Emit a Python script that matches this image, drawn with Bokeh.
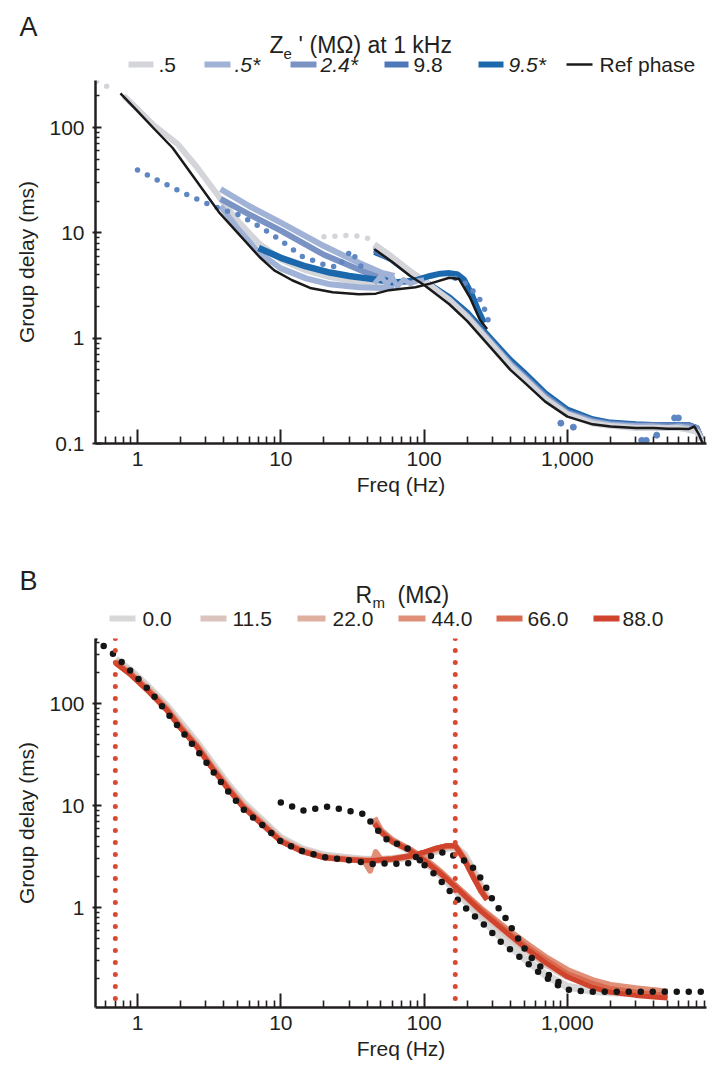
from bokeh.plotting import figure
from bokeh.layouts import column
from bokeh.models import Range1d, FixedTicker, Span, CustomJSTickFormatter
from bokeh.core.properties import value
from bokeh.embed import file_html
from bokeh.resources import INLINE

FONT = "Liberation Sans"
INK = "#231F20"

# ======================= Panel A data =======================
ze_names = [".5", ".5*", "2.4*", "9.8", "9.5*"]
ze_italic = [False, True, True, False, True]
ze_colors = ["#D3D5DA", "#A0B3D6", "#7A93C5", "#4F78B9", "#1C68AC"]
ze_dot_color = "#5E86C2"
ref_color = "#1A1A1A"

# Reference phase (black)
ref_lo_f = [0.76, 1.0, 1.3, 1.76, 2.5, 3.75, 5.0, 7.1, 9.0, 12, 16, 23, 35, 46, 57, 70, 87, 110, 150, 175, 210, 245, 275]
ref_lo_d = [211, 143, 98, 64, 33, 15.4, 10, 5.9, 4.4, 3.55, 3.0, 2.73, 2.62, 2.65, 2.86, 2.95, 3.05, 3.3, 3.75, 3.65, 2.4, 1.5, 1.22]
ref_hi_f = [45, 60, 80, 100, 150, 200, 300, 400, 500, 700, 1000, 1500, 2000, 3000, 4000, 5000, 6000, 7000, 7700, 8200, 8800]
ref_hi_d = [7.0, 5.3, 3.9, 3.2, 2.1, 1.45, 0.78, 0.5, 0.38, 0.25, 0.18, 0.152, 0.145, 0.14, 0.14, 0.138, 0.138, 0.137, 0.145, 0.125, 0.1]

# shared high-frequency grid for the Ze' series
zeA_hi_f = [45, 60, 80, 100, 150, 200, 300, 400, 500, 700, 1000, 1500, 2000, 3000, 4000, 5000, 6000, 7000, 8000, 8600]
z05_hi_d = [7.8, 5.9, 4.3, 3.5, 2.3, 1.58, 0.85, 0.54, 0.41, 0.265, 0.19, 0.155, 0.147, 0.14, 0.14, 0.14, 0.14, 0.135, 0.13, 0.11]
z05s_hi_d = [7.6, 5.8, 4.3, 3.5, 2.3, 1.6, 0.87, 0.56, 0.42, 0.27, 0.19, 0.16, 0.15, 0.145, 0.145, 0.14, 0.145, 0.14, 0.13, 0.11]
z24s_hi_d = [7.3, 5.6, 4.2, 3.45, 2.3, 1.62, 0.88, 0.57, 0.43, 0.28, 0.195, 0.163, 0.152, 0.147, 0.147, 0.145, 0.145, 0.145, 0.14, 0.11]
z98_hi_d = [6.9, 5.5, 4.1, 3.4, 2.35, 1.65, 0.9, 0.58, 0.44, 0.285, 0.2, 0.165, 0.155, 0.15, 0.15, 0.15, 0.15, 0.15, 0.14, 0.11]
z95s_hi_d = [6.6, 5.6, 4.2, 3.5, 2.45, 1.75, 0.95, 0.62, 0.47, 0.3, 0.21, 0.17, 0.158, 0.152, 0.15, 0.15, 0.15, 0.15, 0.14, 0.11]

# low-frequency parts
z05_lo_f = [0.8, 1.0, 1.3, 1.9, 2.6, 3.7, 5, 7, 10, 15, 22, 35, 50, 62]
z05_lo_d = [200, 150, 105, 70, 42, 22, 13, 8, 5.6, 4.4, 3.8, 3.4, 3.25, 3.2]
z05_dotA_f = [0.52, 0.6, 0.7]
z05_dotA_d = [275, 250, 217]
z05_dotB_f = [20, 25, 31, 38, 46]
z05_dotB_d = [9.2, 9.3, 9.5, 9.2, 8.3]

z05s_up_f = [3.8, 6, 10, 20, 35, 50, 62]
z05s_up_d = [26, 18, 12.5, 7.5, 5.2, 4.2, 3.9]
z05s_lo_f = [3.8, 5, 7, 10, 15, 22, 35, 50, 62]
z05s_lo_d = [18, 11, 6.5, 4.6, 3.7, 3.25, 3.05, 3.0, 3.0]
z05s_pk_f = [45, 50, 55, 60, 65, 72, 80, 90, 100]
z05s_pk_d = [3.3, 3.9, 3.2, 3.8, 3.1, 3.6, 3.3, 3.5, 3.6]

z24s_lo_f = [3.8, 6, 10, 20, 35, 50, 62]
z24s_lo_d = [21, 15, 10.5, 6.2, 4.5, 3.7, 3.4]

z98_dot_f = [1.0, 1.3, 1.75, 2.3, 3.0, 4.0, 5.2, 7.5, 10, 14, 20, 25, 28, 31, 34, 38]
z98_dot_d = [39.5, 33, 27, 22.5, 19.2, 16.5, 14.7, 11, 8.5, 6.0, 5.0, 4.7, 5.8, 6.8, 5.5, 4.4]
z98_pkdot_f = [165, 195, 228, 255, 270, 290]
z98_pkdot_d = [3.7, 3.3, 2.67, 2.15, 1.73, 1.27]
z98_stray_f = [900, 1100, 3300, 3550, 4200, 5600, 5950]
z98_stray_d = [0.156, 0.143, 0.107, 0.107, 0.12, 0.175, 0.175]

z95s_lo_f = [7, 10, 15, 22, 30, 40, 55]
z95s_lo_d = [7.2, 5.8, 4.8, 4.2, 3.9, 3.7, 3.5]
z95s_pk_f = [50, 60, 75, 90, 110, 130, 150, 170, 190, 215, 240, 262]
z95s_pk_d = [3.6, 3.4, 3.45, 3.6, 3.9, 4.1, 4.15, 4.05, 3.6, 2.6, 1.8, 1.4]

# ======================= Panel B data =======================
rm_names = ["0.0", "11.5", "22.0", "44.0", "66.0", "88.0"]
rm_colors = ["#D8D8D8", "#DCC4BE", "#DFB09F", "#E08F78", "#DA6A4F", "#D0432D"]
rm_widths = [8, 7, 6, 6, 5.5, 5]

rm_lo_f = [0.7, 0.9, 1.2, 1.6, 2.0, 2.6, 3.3, 4.2, 5.4, 7.4, 10, 14, 20, 30, 38, 42, 46, 50, 60, 80, 100, 120, 145, 165, 190, 220, 250, 275]
rm00_lo_d = [270, 208, 143, 94, 64, 41, 26, 16.5, 10.8, 7.1, 4.8, 3.75, 3.25, 3.05, 2.95, 2.95, 2.95, 2.95, 3.0, 3.15, 3.35, 3.6, 3.85, 3.9, 3.3, 2.3, 1.6, 1.25]
rm115_lo_d = [262, 200, 138, 91, 61, 39.5, 25, 16, 10.4, 6.9, 4.7, 3.7, 3.2, 3.0, 2.95, 2.95, 2.95, 2.95, 3.0, 3.15, 3.35, 3.65, 3.9, 3.95, 3.2, 2.2, 1.55, 1.22]
rm22_lo_d = [258, 197, 136, 90, 60, 39, 24.5, 15.7, 10.2, 6.8, 4.6, 3.65, 3.15, 3.0, 2.9, 2.9, 2.95, 2.95, 3.0, 3.15, 3.4, 3.7, 3.95, 4.0, 3.1, 2.1, 1.5, 1.2]
rm44_lo_d = [255, 195, 134, 89, 59, 38.5, 24, 15.5, 10.1, 6.7, 4.55, 3.6, 3.1, 2.95, 2.9, 2.3, 3.5, 2.95, 3.0, 3.2, 3.45, 3.75, 4.0, 4.05, 3.0, 2.05, 1.45, 1.2]
rm66_lo_d = [252, 192, 132, 87.5, 58, 38, 23.7, 15.2, 9.9, 6.6, 4.5, 3.6, 3.1, 2.95, 2.9, 2.9, 2.9, 2.95, 3.0, 3.2, 3.45, 3.8, 4.05, 4.05, 3.0, 2.0, 1.45, 1.2]
rm88_lo_d = [250, 190, 130, 86, 57, 37.5, 23.5, 15, 9.8, 6.5, 4.45, 3.55, 3.1, 2.95, 2.9, 2.9, 2.9, 2.95, 3.0, 3.2, 3.5, 3.8, 4.05, 4.05, 3.0, 2.0, 1.45, 1.2]

rm_hi_f = [45, 50, 60, 80, 100, 130, 165, 200, 250, 300, 400, 500, 700, 1000, 1500, 2000, 3000, 4000, 5000]
rm00_hi_d = [7.0, 5.6, 4.5, 3.6, 2.9, 2.1, 1.5, 1.12, 0.8, 0.62, 0.42, 0.32, 0.22, 0.168, 0.152, 0.148, 0.145, 0.145, 0.14]
rm115_hi_d = [7.0, 5.6, 4.5, 3.65, 2.95, 2.15, 1.58, 1.2, 0.9, 0.72, 0.51, 0.4, 0.28, 0.21, 0.175, 0.163, 0.155, 0.15, 0.148]
rm22_hi_d = [6.9, 5.6, 4.5, 3.7, 3.0, 2.25, 1.65, 1.28, 0.97, 0.79, 0.57, 0.45, 0.32, 0.24, 0.19, 0.172, 0.16, 0.155, 0.15]
rm44_hi_d = [7.6, 5.7, 4.6, 3.7, 3.05, 2.25, 1.66, 1.3, 0.98, 0.8, 0.58, 0.46, 0.33, 0.245, 0.195, 0.175, 0.162, 0.155, 0.15]
rm66_hi_d = [6.8, 5.6, 4.5, 3.65, 2.95, 2.2, 1.62, 1.26, 0.95, 0.77, 0.55, 0.43, 0.31, 0.225, 0.18, 0.16, 0.148, 0.142, 0.138]
rm88_hi_d = [6.6, 5.5, 4.4, 3.6, 2.9, 2.15, 1.6, 1.23, 0.92, 0.74, 0.53, 0.41, 0.29, 0.21, 0.165, 0.148, 0.138, 0.133, 0.13]

blk1_f = [0.5, 0.7, 0.92, 1.23, 1.57, 2.0, 2.58, 3.29, 4.19, 5.42, 7.37, 10, 14.3, 21, 31, 47, 57, 69, 82, 100, 121, 144, 169, 206, 233, 262, 283, 317, 355, 440, 540, 750, 950]
blk1_d = [434, 295, 201, 131, 85, 55.6, 35.4, 22.5, 14.3, 9.3, 6.5, 4.44, 3.54, 3.09, 2.89, 2.64, 2.76, 2.64, 2.76, 3.0, 3.38, 3.54, 3.09, 2.76, 2.2, 1.76, 1.37, 1.07, 0.87, 0.53, 0.34, 0.216, 0.17]
blk2_f = [10, 14.5, 21.6, 32, 39, 43, 50, 58, 69, 81, 92, 108, 125, 142, 162, 184, 220, 265, 350, 475, 650, 910, 1080, 1500, 2500, 4000, 6000, 9200]
blk2_d = [10.7, 8.9, 9.8, 8.7, 8.2, 6.7, 5.3, 4.3, 4.2, 3.6, 2.9, 2.4, 1.97, 1.6, 1.31, 1.07, 0.85, 0.67, 0.45, 0.32, 0.225, 0.164, 0.154, 0.15, 0.15, 0.15, 0.15, 0.15]

marker_f = [0.7, 165]

# ticks
x_major = [1, 10, 100, 1000]
x_minor = [0.6, 0.7, 0.8, 0.9] + [k for k in range(2, 10)] + [10 * k for k in range(2, 10)] + \
          [100 * k for k in range(2, 10)] + [1000 * k for k in range(2, 10)]
yA_major = [0.1, 1, 10, 100]
yB_major = [1, 10, 100]
y_minor = [0.1 * k for k in range(2, 10)] + [k for k in range(2, 10)] + [10 * k for k in range(2, 10)] + [200, 300, 400]

# ======================= layout constants =======================
W = 724
BL, FW = 95, 611                # frame left border and width (same for every figure)
BR = W - BL - FW
XR = (0.509, 9350)


def panel(yr, h, top, frame_h, ymajor):
    p = figure(width=W, height=h, x_axis_type="log", y_axis_type="log",
               x_range=Range1d(*XR), y_range=Range1d(*yr),
               min_border_top=top, min_border_bottom=h - top - frame_h,
               min_border_left=BL, min_border_right=BR,
               output_backend="svg", toolbar_location=None)
    p.grid.visible = False
    p.outline_line_color = None
    xa = p.xaxis[0]
    xa.ticker = FixedTicker(ticks=x_major, minor_ticks=x_minor)
    xa.formatter = CustomJSTickFormatter(code="return tick >= 1000 ? tick.toLocaleString('en-US') : String(tick);")
    xa.major_tick_in = 14
    xa.major_tick_out = 0
    xa.minor_tick_in = 7
    xa.minor_tick_out = 0
    xa.major_label_standoff = 8
    xa.axis_label = "Freq (Hz)"
    xa.axis_label_standoff = 4
    ya = p.yaxis[0]
    ya.ticker = FixedTicker(ticks=ymajor, minor_ticks=y_minor)
    ya.formatter = CustomJSTickFormatter(code="return String(tick);")
    ya.major_tick_in = 6
    ya.major_tick_out = 3
    ya.minor_tick_in = 4
    ya.minor_tick_out = 0
    ya.major_label_standoff = 8
    ya.axis_label = "Group delay (ms)"
    ya.axis_label_standoff = 8
    for a in (xa, ya):
        a.axis_line_width = 2.5
        a.axis_line_color = INK
        a.major_tick_line_width = 2
        a.major_tick_line_color = INK
        a.minor_tick_line_width = 1.6
        a.minor_tick_line_color = INK
        a.major_label_text_font = FONT
        a.major_label_text_font_size = "21px"
        a.major_label_text_color = INK
        a.axis_label_text_font = FONT
        a.axis_label_text_font_size = "21px"
        a.axis_label_text_font_style = "normal"
        a.axis_label_text_color = INK
    return p


def header(h, top_page, letter, letter_y):
    """Header strip: data x = page x, data y = page y (y grows downwards)."""
    p = figure(width=W, height=h, x_range=Range1d(BL, BL + FW),
               y_range=Range1d(top_page + h, top_page),
               x_axis_location=None, y_axis_location="left",
               min_border_top=0, min_border_bottom=0,
               min_border_left=BL, min_border_right=BR,
               output_backend="svg", toolbar_location=None)
    p.grid.visible = False
    p.outline_line_color = None
    ya = p.yaxis[0]
    ya.ticker = FixedTicker(ticks=[letter_y])
    ya.formatter = CustomJSTickFormatter(code="return '%s';" % letter)
    ya.axis_line_color = None
    ya.major_tick_line_color = None
    ya.minor_tick_line_color = None
    ya.major_tick_out = 0
    ya.major_tick_in = 0
    ya.major_label_standoff = 58
    ya.major_label_text_font = FONT
    ya.major_label_text_font_size = "27px"
    ya.major_label_text_color = INK
    return p


def txt(p, x, y, s, size="21px", style="normal"):
    p.text(x=[x], y=[y], text=[s], text_font=value(FONT), text_font_size=size,
           text_font_style=style, text_color=INK, text_baseline="middle", text_align="left")


def swatch(p, x0, x1, y, color, w=6):
    p.segment(x0=[x0], y0=[y], x1=[x1], y1=[y], line_color=color, line_width=w, line_cap="butt")


def solid(p, f, d, color, w=6):
    p.line(x=f, y=d, line_color=color, line_width=w, line_join="round")


def dotted(p, f, d, color, w=5.5, gap="0 11"):
    p.line(x=f, y=d, line_color=color, line_width=w, line_dash=gap, line_cap="round")


# ---------------- Header A (page y 0..76) ----------------
hA = header(76, 0, "A", 26)
txt(hA, 269, 44, "Z", size="23px")
txt(hA, 283, 53, "e", size="15px")
txt(hA, 298, 44, "'", size="23px")
txt(hA, 309, 44, "(M\u03a9) at 1 kHz", size="23px")
swA = [(128, 153), (204, 230), (290, 316), (384, 408), (478, 503)]
txA = [158, 234, 320, 413, 508]
for (x0, x1), tx, name, col, it in zip(swA, txA, ze_names, ze_colors, ze_italic):
    swatch(hA, x0, x1, 64, col)
    txt(hA, tx, 64, name, style="italic" if it else "normal")
swatch(hA, 566, 592, 64, ref_color, w=2.5)
txt(hA, 599, 64, "Ref phase")

# ---------------- Panel A (page y 76..520) ----------------
pA = panel((0.1, 280), 444, 4, 363, yA_major)
c05, c05s, c24s, c98, c95s = ze_colors
solid(pA, zeA_hi_f, z95s_hi_d, c95s)
solid(pA, zeA_hi_f, z98_hi_d, c98)
solid(pA, zeA_hi_f, z24s_hi_d, c24s)
solid(pA, zeA_hi_f, z05s_hi_d, c05s)
solid(pA, zeA_hi_f, z05_hi_d, c05)
solid(pA, z05_lo_f, z05_lo_d, c05)
solid(pA, z05s_up_f, z05s_up_d, c05s)
solid(pA, z05s_lo_f, z05s_lo_d, c05s)
solid(pA, z24s_lo_f, z24s_lo_d, c24s)
solid(pA, z95s_lo_f, z95s_lo_d, c95s, w=6.5)
solid(pA, z95s_pk_f, z95s_pk_d, c95s)
solid(pA, z05s_pk_f, z05s_pk_d, c05s, w=5)
dotted(pA, z05_dotA_f, z05_dotA_d, c05)
dotted(pA, z05_dotB_f, z05_dotB_d, c05)
dotted(pA, z98_dot_f, z98_dot_d, ze_dot_color)
dotted(pA, z98_pkdot_f, z98_pkdot_d, ze_dot_color)
pA.scatter(x=z98_stray_f, y=z98_stray_d, size=6, color=ze_dot_color)
solid(pA, ref_lo_f, ref_lo_d, ref_color, w=2.5)
solid(pA, ref_hi_f, ref_hi_d, ref_color, w=2.5)

# ---------------- Header B (page y 520..631) ----------------
hB = header(111, 520, "B", 580)
txt(hB, 355, 594, "R", size="23px")
txt(hB, 372, 602, "m", size="15px")
txt(hB, 397, 594, "(M\u03a9)", size="23px")
swB = [(109, 135), (200, 226), (297, 325), (398, 425), (496, 522), (593, 619)]
txB = [142, 232, 332, 431, 527, 622]
for (x0, x1), tx, name, col in zip(swB, txB, rm_names, rm_colors):
    swatch(hB, x0, x1, 618, col)
    txt(hB, tx, 618, name)

# ---------------- Panel B (page y 631..1080) ----------------
pB = panel((0.105, 434), 449, 7, 369, yB_major)
rm_lo = [rm00_lo_d, rm115_lo_d, rm22_lo_d, rm44_lo_d, rm66_lo_d, rm88_lo_d]
rm_hi = [rm00_hi_d, rm115_hi_d, rm22_hi_d, rm44_hi_d, rm66_hi_d, rm88_hi_d]
for lo, hi, col, w in zip(rm_lo, rm_hi, rm_colors, rm_widths):
    solid(pB, rm_lo_f, lo, col, w=w)
    solid(pB, rm_hi_f, hi, col, w=w)
dotted(pB, blk1_f, blk1_d, "#151515", w=6.5, gap="0 12")
dotted(pB, blk2_f, blk2_d, "#151515", w=6.5, gap="0 12")
for f in marker_f:
    pB.add_layout(Span(location=f, dimension="height", line_color="#D94A30",
                       line_width=5, line_dash="0 12", line_cap="round"))

layout = column(hA, pA, hB, pB)
open("out.html", "w").write(file_html(layout, INLINE))
